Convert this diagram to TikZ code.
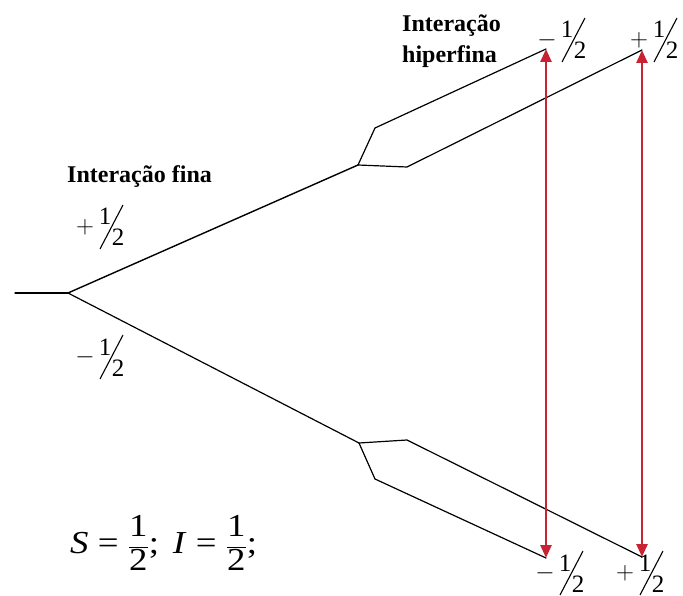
\documentclass[tikz,border=0pt]{standalone}
\usepackage{fontspec}
\usepackage{graphicx}
\setmainfont{Liberation Serif}
\usetikzlibrary{arrows.meta}
\definecolor{arrowred}{RGB}{200,35,50}
\tikzset{
  level/.style={line width=1.2pt, line join=round, line cap=round},
  transition/.style={arrowred, line width=2.6pt,
    {Triangle[length=13pt,width=11pt]}-{Triangle[length=13pt,width=11pt]}},
  boldlab/.style={font=\fontsize{24}{26}\selectfont\bfseries, inner sep=0pt, anchor=base west},
  digit/.style={font=\fontsize{25}{25}\selectfont, inner sep=0pt, anchor=base},
  signlab/.style={font=\fontsize{28}{28}\selectfont, inner sep=0pt},
  pics/halfpic/.style={code={
    \node[signlab] (-sign) at (-16,-20) {$#1$};
    \node[digit] (-num) at (4,-22) {1};
    \node[digit] (-den) at (17,-1) {2};
    \draw[line width=1.1pt] (-1,2) -- (22,-42);
  }}
}
\begin{document}
\begin{tikzpicture}[x=1pt,y=-1pt]
\useasboundingbox (0,0) rectangle (683,596);
% level points
\coordinate (stub) at (15,293);
\coordinate (root) at (68,293);
\coordinate (up) at (358,165);
\coordinate (dn) at (359,443);
\coordinate (ua) at (375,128);
\coordinate (ub) at (407,167);
\coordinate (da) at (375,479);
\coordinate (db) at (407,440);
\coordinate (ue1) at (546,49);
\coordinate (ue2) at (642,50);
\coordinate (de1) at (546,558);
\coordinate (de2) at (642,557);
% levels
\draw[level] (stub) -- (root);
\draw[level, line width=1.4pt] (root) -- (up);
\draw[level] (root) -- (dn);
\draw[level] (up) -- (ua) -- (ue1);
\draw[level] (up) -- (ub) -- (ue2);
\draw[level] (dn) -- (da) -- (de1);
\draw[level] (dn) -- (db) -- (de2);
% transitions
\draw[transition] (ue1) -- (de1);
\draw[transition] (ue2) -- (de2);
% labels
\node[boldlab] (fina) at (67,183) {Interação fina};
\node[boldlab] (hip1) at (402,32) {Interação};
\node[boldlab] (hip2) at (402,63) {hiperfina};
\pic (lp) at (101,247) {halfpic={+}};
\pic (lm) at (101,377) {halfpic={-}};
\pic (tm) at (563,60) {halfpic={-}};
\pic (tp) at (655,60) {halfpic={+}};
\pic (bm) at (561,593) {halfpic={-}};
\pic (bp) at (641,593) {halfpic={+}};
\node[anchor=base west, inner sep=0pt, font=\fontsize{32}{32}\selectfont] (spins) at (70,553)
  {\scalebox{1.15}[1]{\textit{S}\hspace{8pt}=\hspace{8pt}$\displaystyle\frac{\mbox{1}}{\mbox{2}}$;\hspace{12pt}\textit{I}\hspace{8pt}=\hspace{8pt}$\displaystyle\frac{\mbox{1}}{\mbox{2}}$;}};
\end{tikzpicture}
\end{document}
